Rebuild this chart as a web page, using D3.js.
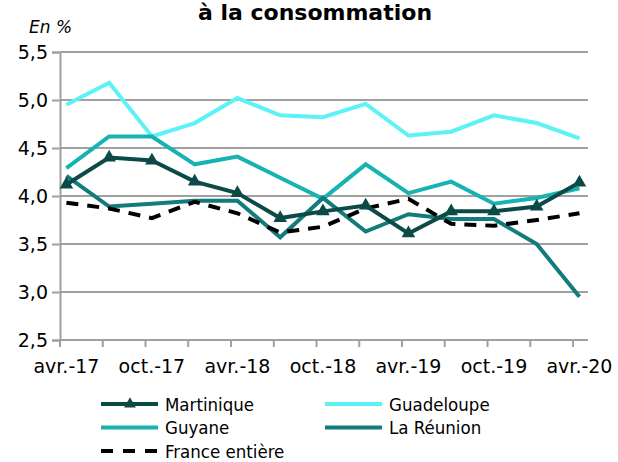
<!DOCTYPE html>
<html>
<head>
<meta charset="utf-8">
<script src="https://cdn.jsdelivr.net/npm/d3@7"></script>
<style>
  body { margin: 0; background: #fff; }
  svg { display: block; font-family: "DejaVu Sans", sans-serif; }
</style>
</head>
<body>
<svg id="chart" width="618" height="462"></svg>
<script>
// quarterly points, avr.-17 -> avr.-20
const periods = ["avr.-17", "juil.-17", "oct.-17", "janv.-18", "avr.-18", "juil.-18", "oct.-18",
                 "janv.-19", "avr.-19", "juil.-19", "oct.-19", "janv.-20", "avr.-20"];
const martinique = [4.12, 4.40, 4.37, 4.15, 4.03, 3.77, 3.84, 3.90, 3.61, 3.84, 3.84, 3.89, 4.14];
const guadeloupe = [4.95, 5.18, 4.62, 4.76, 5.02, 4.84, 4.82, 4.96, 4.63, 4.67, 4.84, 4.76, 4.60];
const guyane     = [4.29, 4.62, 4.62, 4.33, 4.41, 4.19, 3.97, 4.33, 4.03, 4.15, 3.92, 3.98, 4.08];
const reunion    = [4.21, 3.89, 3.92, 3.95, 3.95, 3.57, 3.98, 3.63, 3.81, 3.76, 3.76, 3.50, 2.95];
const france     = [3.93, 3.87, 3.77, 3.94, 3.82, 3.62, 3.68, 3.87, 3.97, 3.71, 3.69, 3.75, 3.82];
const yTicks = [2.5, 3.0, 3.5, 4.0, 4.5, 5.0, 5.5];

const series = [
  { name: "Martinique", values: martinique, color: "#0b4a46", marker: true },
  { name: "Guadeloupe", values: guadeloupe, color: "#5cf2f6" },
  { name: "Guyane", values: guyane, color: "#17b3b3" },
  { name: "La Réunion", values: reunion, color: "#127c7c" },
  { name: "France entière", values: france, color: "#000000", dash: "12,9" }
];
// draw order (Martinique on top)
const drawOrder = ["Guadeloupe", "Guyane", "La Réunion", "France entière", "Martinique"];

const svg = d3.select("#chart");
const fmt = d => d.toFixed(1).replace(".", ",");

const x = d3.scaleLinear().domain([-0.15, 12.2]).range([60, 588]);
const y = d3.scaleLinear().domain([2.5, 5.5]).range([340, 52]);

// title (cut at top in original)
svg.append("text")
  .attr("x", 315).attr("y", 20)
  .attr("text-anchor", "middle")
  .attr("font-weight", "bold")
  .attr("font-size", 22)
  .text("à la consommation");

svg.append("text")
  .attr("x", 29).attr("y", 33)
  .attr("font-style", "italic")
  .attr("font-size", 17)
  .text("En %");

// gridlines
svg.append("g")
  .selectAll("line")
  .data(yTicks.filter(v => v > 2.5))
  .join("line")
  .attr("x1", 60).attr("x2", 588)
  .attr("y1", d => y(d)).attr("y2", d => y(d))
  .attr("stroke", "#a0a0a0").attr("stroke-width", 2);

// y axis
const yAxis = svg.append("g")
  .attr("transform", "translate(60,0)")
  .call(d3.axisLeft(y).tickValues(yTicks).tickFormat(fmt).tickSize(8).tickPadding(4));
yAxis.select(".domain").attr("stroke", "#a0a0a0").attr("stroke-width", 2);
yAxis.selectAll(".tick line").attr("stroke", "#a0a0a0").attr("stroke-width", 2);
yAxis.selectAll("text").attr("font-size", 19).attr("fill", "#000")
  .attr("font-family", "DejaVu Sans");

// x axis: tick marks sit just left of each quarter
const tickIdx = d3.range(0, 13).map(i => i - 0.15);
const xAxis = svg.append("g")
  .attr("transform", "translate(0,340)");
xAxis.append("line")
  .attr("x1", 60).attr("x2", 588)
  .attr("stroke", "#a0a0a0").attr("stroke-width", 2);
xAxis.selectAll("line.tk")
  .data(tickIdx)
  .join("line")
  .attr("class", "tk")
  .attr("x1", d => x(d)).attr("x2", d => x(d))
  .attr("y1", 0).attr("y2", 7)
  .attr("stroke", "#a0a0a0").attr("stroke-width", 2);
xAxis.selectAll("text")
  .data(periods.map((p, i) => ({ p, i })).filter(d => d.i % 2 === 0))
  .join("text")
  .attr("x", d => x(d.i))
  .attr("y", 33)
  .attr("text-anchor", "middle")
  .attr("font-size", 19)
  .text(d => d.p);

// lines
const line = d3.line()
  .x((d, i) => x(i))
  .y(d => y(d));

const lines = svg.append("g");
drawOrder.forEach(n => {
  const s = series.find(d => d.name === n);
  lines.append("path")
    .datum(s.values)
    .attr("fill", "none")
    .attr("stroke", s.color)
    .attr("stroke-width", 4)
    .attr("stroke-dasharray", s.dash || null)
    .attr("stroke-linejoin", "miter")
    .attr("d", line);
  if (s.marker) {
    lines.selectAll(null)
      .data(s.values)
      .join("path")
      .attr("transform", (d, i) => `translate(${x(i)},${y(d)})`)
      .attr("d", d3.symbol(d3.symbolTriangle, 80))
      .attr("fill", s.color);
  }
});

// legend
const legendPos = [
  { name: "Martinique", lx: 101, row: 0 },
  { name: "Guadeloupe", lx: 325, row: 0 },
  { name: "Guyane", lx: 101, row: 1 },
  { name: "La Réunion", lx: 325, row: 1 },
  { name: "France entière", lx: 101, row: 2 }
];
const legend = svg.append("g");
legendPos.forEach(p => {
  const s = series.find(d => d.name === p.name);
  const ly = 404 + p.row * 23.5;
  const g = legend.append("g");
  g.append("line")
    .attr("x1", p.lx).attr("x2", p.lx + 57)
    .attr("y1", ly).attr("y2", ly)
    .attr("stroke", s.color).attr("stroke-width", 4)
    .attr("stroke-dasharray", s.dash ? "12,10" : null);
  if (s.marker) {
    g.append("path")
      .attr("transform", `translate(${p.lx + 29},${ly})`)
      .attr("d", d3.symbol(d3.symbolTriangle, 60))
      .attr("fill", s.color);
  }
  g.append("text")
    .attr("x", p.lx + 64).attr("y", ly + 6.5)
    .attr("font-size", 18.5)
    .attr("font-family", "DejaVu Sans Condensed, DejaVu Sans")
    .text(s.name);
});
</script>
</body>
</html>
